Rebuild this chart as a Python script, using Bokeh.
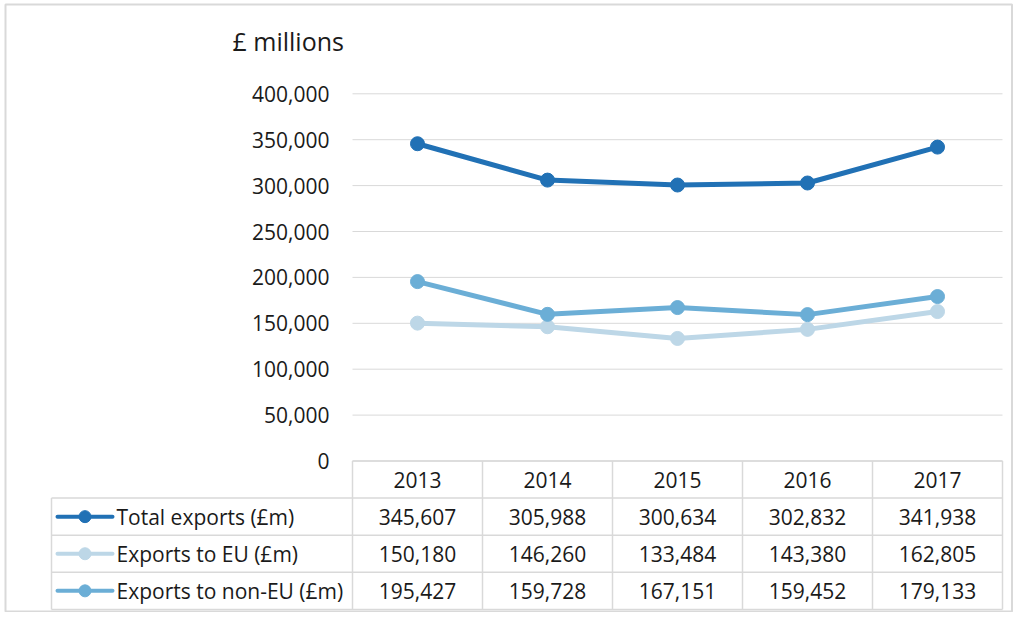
from bokeh.plotting import figure
from bokeh.models import Range1d
from bokeh.core.properties import value
from bokeh.embed import file_html
from bokeh.resources import INLINE

# ---------------- data ----------------
years = ["2013", "2014", "2015", "2016", "2017"]
total_exports = [345607, 305988, 300634, 302832, 341938]
exports_eu = [150180, 146260, 133484, 143380, 162805]
exports_non_eu = [195427, 159728, 167151, 159452, 179133]
series_names = ["Total exports (£m)", "Exports to EU (£m)", "Exports to non-EU (£m)"]
series_colors = ["#2171b5", "#bdd7e7", "#6baed6"]
y_ticks = [0, 50000, 100000, 150000, 200000, 250000, 300000, 350000, 400000]
y_axis_title = "£ millions"

series_values = [total_exports, exports_eu, exports_non_eu]

# ---------------- layout (picture pixels) ----------------
PAGE_X0, PAGE_Y0 = 0, 0
W, H = 1013, 612
COL_LEFT_PX, COL_W_PX = 352, 130
Y0_PX, Y400_PX = 460.5, 93.3
ROW_TOP_PX, ROW_H_PX = 460.5, 37.1
FONT = value("Open Sans")
TEXT_COLOR = "#1a1a1a"
GRID_COLOR = "#d9d9d9"

units_per_px = y_ticks[-1] / (Y0_PX - Y400_PX)


def px_x(px):
    return (px - COL_LEFT_PX) / COL_W_PX


def px_y(py):
    return (Y0_PX - py) * units_per_px


def px_row(py):
    return -(py - ROW_TOP_PX) / ROW_H_PX


p = figure(
    width=W, height=H,
    x_range=Range1d(px_x(PAGE_X0), px_x(PAGE_X0 + W)),
    y_range=Range1d(px_y(PAGE_Y0 + H), px_y(PAGE_Y0)),
    x_axis_type=None, y_axis_type=None,
    output_backend="svg", toolbar_location=None, min_border=0,
)
p.extra_y_ranges = {"table": Range1d(px_row(PAGE_Y0 + H), px_row(PAGE_Y0))}
p.outline_line_color = None
p.background_fill_color = "white"
p.border_fill_color = "white"

# chart-area border
p.quad(left=[px_x(5)], right=[px_x(1011.5)], top=[px_y(4)], bottom=[px_y(611)],
       fill_color=None, line_color=GRID_COLOR, line_width=2)

n = len(years)
xc = [i + 0.5 for i in range(n)]

# gridlines
p.segment(x0=[0] * len(y_ticks), x1=[n] * len(y_ticks), y0=y_ticks, y1=y_ticks,
          line_color=GRID_COLOR, line_width=1)

# y tick labels
p.text(x=[px_x(329)] * len(y_ticks), y=y_ticks, text=[f"{v:,}" for v in y_ticks],
       text_align="right", text_baseline="middle", text_font=FONT,
       text_font_size="21px", text_color=TEXT_COLOR)

# axis title
p.text(x=[px_x(232)], y=[px_y(40)], text=[y_axis_title], text_align="left",
       text_baseline="middle", text_font=FONT, text_font_size="25px", text_color=TEXT_COLOR)

# series lines (draw light ones first)
for k in [1, 2, 0]:
    p.line(x=xc, y=series_values[k], line_color=series_colors[k], line_width=5,
           line_join="round", line_cap="round")
    p.scatter(x=xc, y=series_values[k], size=14, fill_color=series_colors[k],
              line_color=series_colors[k], marker="circle")

# ---------------- data table ----------------
TR = "table"
leg_left = px_x(51)
# horizontal lines
p.segment(x0=[0], x1=[n], y0=[0], y1=[0], line_color=GRID_COLOR, line_width=1.5, y_range_name=TR)
p.segment(x0=[leg_left] * 4, x1=[n] * 4, y0=[-1, -2, -3, -4], y1=[-1, -2, -3, -4],
          line_color=GRID_COLOR, line_width=1.5, y_range_name=TR)
# vertical lines
p.segment(x0=list(range(n + 1)), x1=list(range(n + 1)), y0=[0] * (n + 1), y1=[-4] * (n + 1),
          line_color=GRID_COLOR, line_width=1.5, y_range_name=TR)
p.segment(x0=[leg_left], x1=[leg_left], y0=[-1], y1=[-4],
          line_color=GRID_COLOR, line_width=1.5, y_range_name=TR)

# header
p.text(x=xc, y=[-0.5] * n, text=years, text_align="center", text_baseline="middle",
       text_font=FONT, text_font_size="21px", text_color=TEXT_COLOR, y_range_name=TR)

for k, (name, vals, col) in enumerate(zip(series_names, series_values, series_colors)):
    ry = -(k + 1.5)
    p.text(x=xc, y=[ry] * n, text=[f"{v:,}" for v in vals], text_align="center",
           text_baseline="middle", text_font=FONT, text_font_size="21px",
           text_color=TEXT_COLOR, y_range_name=TR)
    p.segment(x0=[px_x(57)], x1=[px_x(112)], y0=[ry], y1=[ry], line_color=col,
              line_width=4, line_cap="round", y_range_name=TR)
    p.scatter(x=[px_x(84.5)], y=[ry], size=12, fill_color=col, line_color=col,
              marker="circle", y_range_name=TR)
    p.text(x=[px_x(116)], y=[ry], text=[name], text_align="left", text_baseline="middle",
           text_font=FONT, text_font_size="21px", text_color=TEXT_COLOR, y_range_name=TR)

open("out.html", "w").write(file_html(p, INLINE))
